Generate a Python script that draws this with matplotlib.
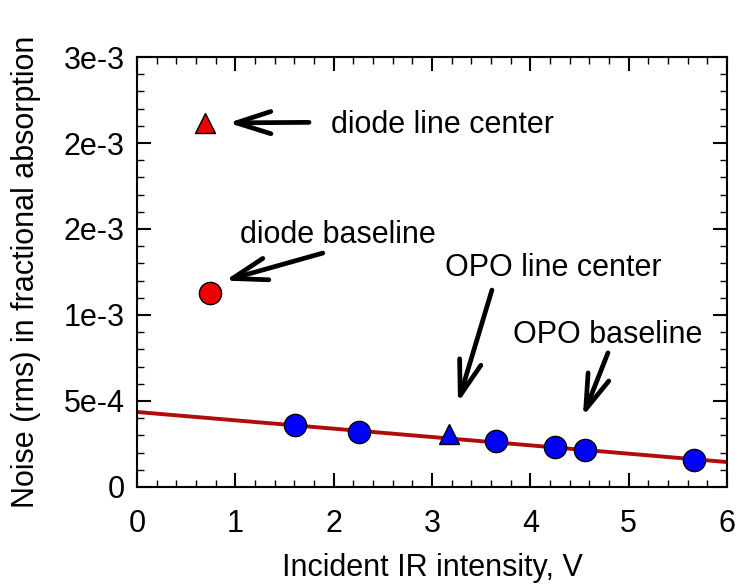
import matplotlib.pyplot as plt
from matplotlib.ticker import MultipleLocator

plt.rcParams['font.family'] = ['Liberation Sans', 'DejaVu Sans']

# OPO baseline points
opo_x = [1.61, 2.26, 3.65, 4.25, 4.56, 5.67]
opo_y = [3.6e-4, 3.2e-4, 2.67e-4, 2.33e-4, 2.15e-4, 1.57e-4]
# OPO line center
opo_lc_x = [3.17]
opo_lc_y = [3.1e-4]
# diode points
diode_base_x = [0.74]
diode_base_y = [1.13e-3]
diode_lc_x = [0.69]
diode_lc_y = [2.115e-3]
# linear fit through OPO points
fit_x = [0, 6]
fit_y = [4.36e-4, 1.45e-4]

ytick_vals = [0, 5e-4, 1e-3, 1.5e-3, 2e-3, 2.5e-3]
ytick_labels = ['0', '5e-4', '1e-3', '2e-3', '2e-3', '3e-3']

# annotations: text, text pos (baseline), alignment, arrow tail, arrow head
notes = [
    ('diode line center', (1.97, 2.06e-3), 'left', (1.75, 2.12e-3), (0.93, 2.117e-3)),
    ('diode baseline', (2.04, 1.42e-3), 'center', (1.89, 1.36e-3), (0.895, 1.20e-3)),
    ('OPO line center', (4.23, 1.227e-3), 'center', (3.61, 1.145e-3), (3.265, 0.49e-3)),
    ('OPO baseline', (4.785, 0.837e-3), 'center', (4.79, 0.78e-3), (4.535, 0.41e-3)),
]

FS = 22

fig = plt.figure(figsize=(7.38, 5.86), dpi=100)
ax = fig.add_axes([0.1856, 0.169, 0.7994, 0.7337])

ax.plot(fit_x, fit_y, color='#b00c0c', lw=2.8, zorder=2)
ax.plot(opo_x, opo_y, 'o', color='#0000ff', mec='black', mew=1, ms=16, zorder=3)
ax.plot(opo_lc_x, opo_lc_y, '^', color='#0000ff', mec='black', mew=1, ms=15, zorder=3)
ax.plot(diode_base_x, diode_base_y, 'o', color='#ee0000', mec='black', mew=1, ms=16, zorder=3)
ax.plot(diode_lc_x, diode_lc_y, '^', color='#ee0000', mec='black', mew=1, ms=14.5, zorder=3)

for txt, tpos, ha, tail, head in notes:
    ax.text(tpos[0], tpos[1], txt, fontsize=FS, ha=ha, va='baseline')
    ax.annotate('', xy=head, xytext=tail,
                arrowprops=dict(arrowstyle='->,head_length=1.25,head_width=0.4',
                                mutation_scale=20, lw=3.4, color='black',
                                shrinkA=0, shrinkB=0))

ax.set_xlim(0, 6)
ax.set_ylim(0, 2.5e-3)
ax.xaxis.set_major_locator(MultipleLocator(1))
ax.xaxis.set_minor_locator(MultipleLocator(0.2))
ax.set_yticks(ytick_vals)
ax.set_yticklabels(ytick_labels)
ax.yaxis.set_minor_locator(MultipleLocator(1e-4))
ax.tick_params(which='both', direction='in', top=True, right=True, labelsize=FS)
ax.tick_params(which='major', length=10, width=1.5, pad=9)
ax.tick_params(which='minor', length=5, width=1)
ax.tick_params(axis='x', pad=16)
for s in ax.spines.values():
    s.set_linewidth(1.5)

ax.set_xlabel('Incident IR intensity, V', fontsize=FS, labelpad=10)
ax.set_ylabel('Noise (rms) in fractional absorption', fontsize=FS, labelpad=16)

fig.savefig('out.png', dpi=100)
